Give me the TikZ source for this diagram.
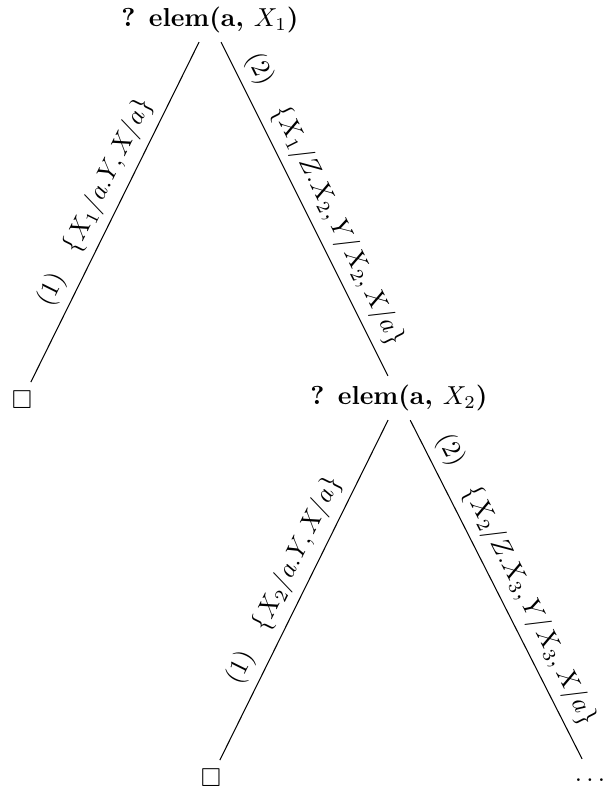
\documentclass[tikz,border=0pt]{standalone}
\usepackage{amssymb}
\begin{document}
\begin{tikzpicture}[x=0.385pt,y=-0.385pt,
  lbl/.style={midway,sloped,above},
  goal/.style={inner sep=3.33pt},
  leaf/.style={inner sep=3.33pt}]
\useasboundingbox (0,0) rectangle (602,794);
\node[goal] (g1) at (210,20) {\textbf{? elem(a, $X_1$)}};
\node[goal] (g2) at (399,398) {\textbf{? elem(a, $X_2$)}};
\node[leaf] (b1) at (22,400) {$\square$};
\node[leaf] (b2) at (211,778) {$\square$};
\node[leaf,anchor=base,text height=5pt] (d) at (590,781) {$\dots$};
\draw (g1) -- (b1) node[lbl] {$(1)\quad\{X_1/a.Y, X/a\}$};
\draw (g1) -- (g2) node[lbl] {$(2)\quad\{X_1/Z.X_2, Y/X_2, X/a\}$};
\draw (g2) -- (b2) node[lbl] {$(1)\quad\{X_2/a.Y, X/a\}$};
\draw (g2) -- (d) node[lbl] {$(2)\quad\{X_2/Z.X_3, Y/X_3, X/a\}$};
\end{tikzpicture}
\end{document}
